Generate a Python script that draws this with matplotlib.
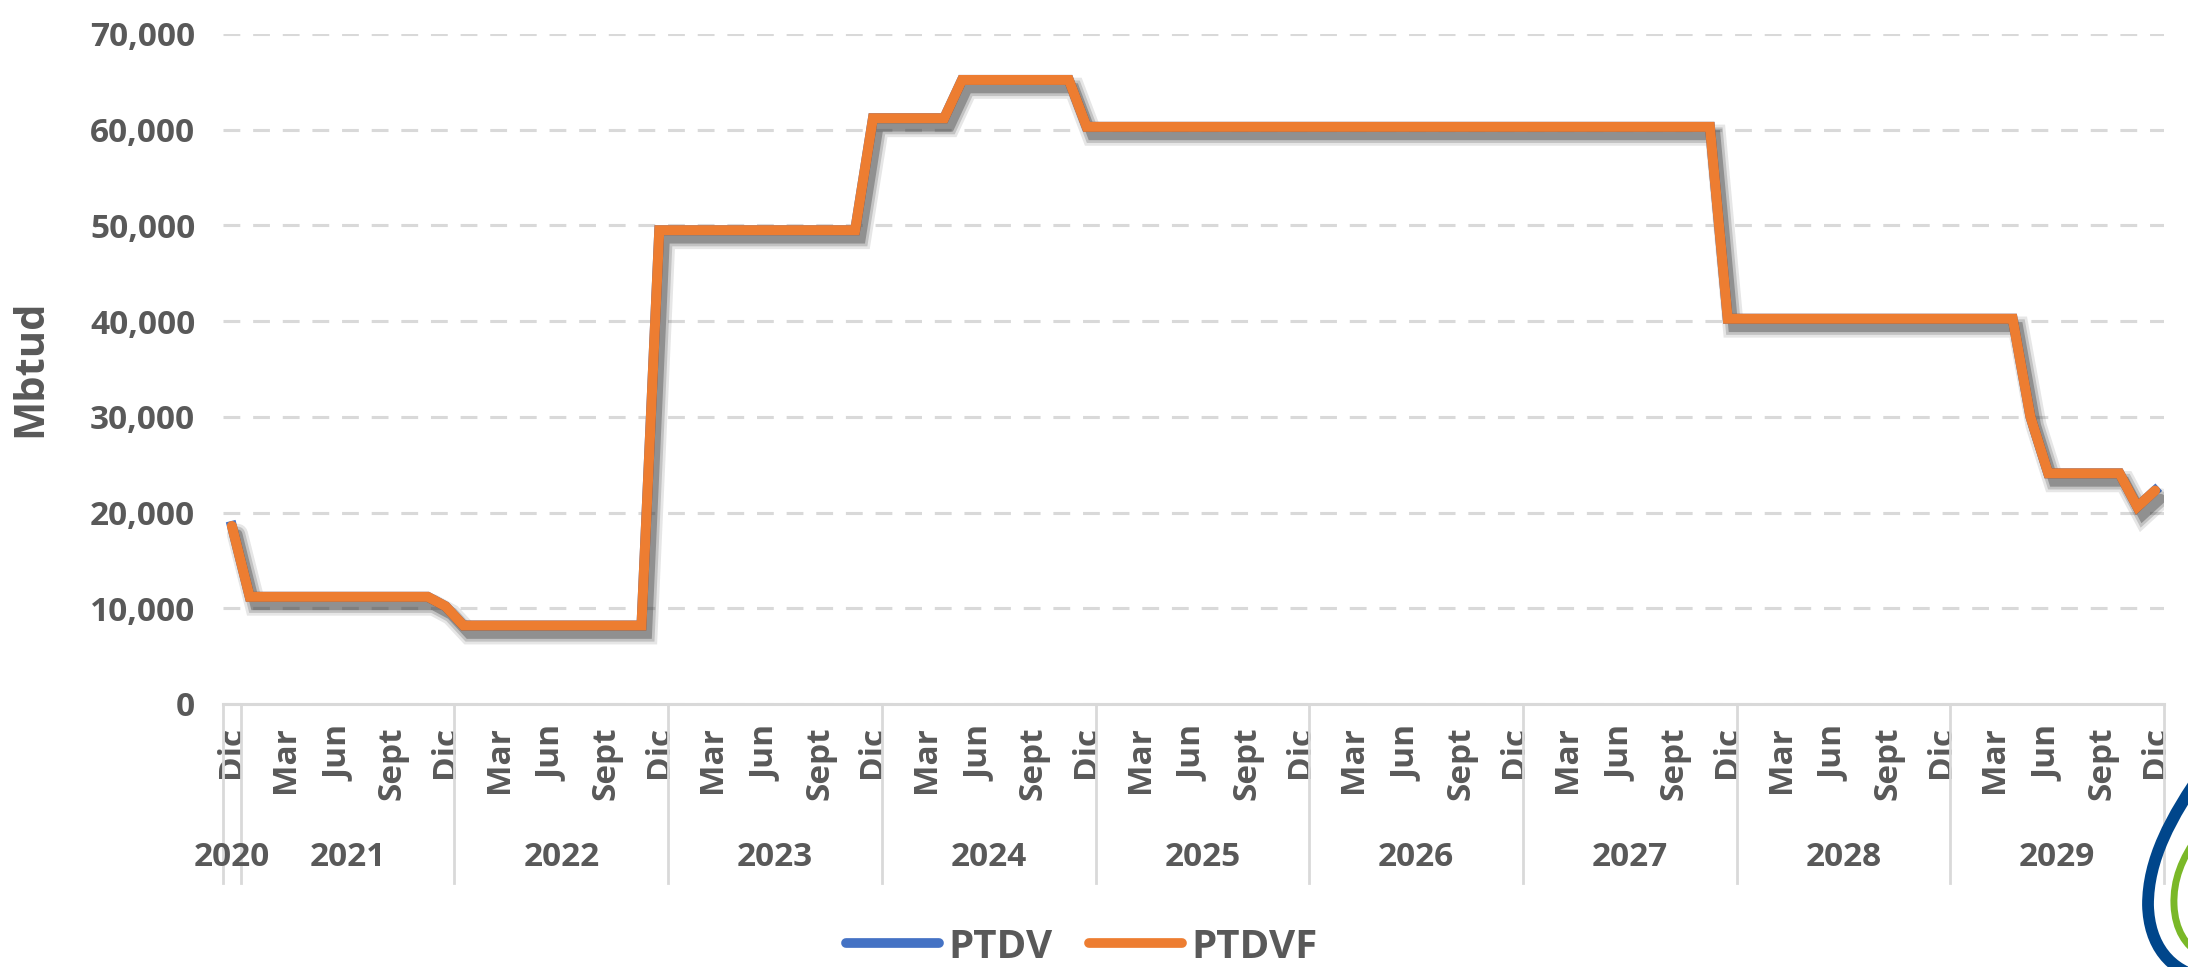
import numpy as np
import matplotlib.pyplot as plt
import matplotlib.patheffects as pe
from matplotlib.lines import Line2D
from matplotlib.path import Path
from matplotlib.patches import PathPatch

plt.rcParams['font.family'] = ['Open Sans', 'DejaVu Sans']

# Monthly categories, Dic 2020 .. Dic 2029
years = ['2020', '2021', '2022', '2023', '2024', '2025', '2026', '2027', '2028', '2029']
month_names = ['Ene', 'Feb', 'Mar', 'Abr', 'May', 'Jun', 'Jul', 'Ago', 'Sept', 'Oct', 'Nov', 'Dic']
months = ['Dic'] + month_names * 9

# PTDVF values (Mbtud), one row per year (2020 has only Dic)
ptdvf = [18600,
         11200, 11200, 11200, 11200, 11200, 11200, 11200, 11200, 11200, 11200, 11200, 10200,
         8200, 8200, 8200, 8200, 8200, 8200, 8200, 8200, 8200, 8200, 8200, 49500,
         49500, 49500, 49500, 49500, 49500, 49500, 49500, 49500, 49500, 49500, 49500, 61200,
         61200, 61200, 61200, 61200, 65200, 65200, 65200, 65200, 65200, 65200, 65200, 60300,
         60300, 60300, 60300, 60300, 60300, 60300, 60300, 60300, 60300, 60300, 60300, 60300,
         60300, 60300, 60300, 60300, 60300, 60300, 60300, 60300, 60300, 60300, 60300, 60300,
         60300, 60300, 60300, 60300, 60300, 60300, 60300, 60300, 60300, 60300, 60300, 40250,
         40250, 40250, 40250, 40250, 40250, 40250, 40250, 40250, 40250, 40250, 40250, 40250,
         40250, 40250, 40250, 40250, 30000, 24100, 24100, 24100, 24100, 24100, 20600, 22300]
# PTDV is identical and hidden under PTDVF
ptdv = list(ptdvf)

text_color = '#595959'
grid_color = '#D9D9D9'
blue = '#4472C4'
orange = '#ED7D31'

W, H = 2188, 967
fig = plt.figure(figsize=(W / 100, H / 100), dpi=100)
ax = fig.add_axes([223 / W, 1 - 704 / H, (2164 - 223) / W, (704 - 34) / H])

x = np.arange(len(months))
lw = 7.2
shadow = [pe.SimpleLineShadow(offset=(4, -6), shadow_color='#333333', alpha=0.12, linewidth=lw + 8),
          pe.SimpleLineShadow(offset=(4, -6), shadow_color='#333333', alpha=0.2, linewidth=lw + 4),
          pe.SimpleLineShadow(offset=(4, -6), shadow_color='#333333', alpha=0.35, linewidth=lw),
          pe.Normal()]
ax.plot(x, ptdv, color=blue, lw=lw, solid_joinstyle='miter', zorder=3)
ax.plot(x, ptdvf, color=orange, lw=lw, solid_capstyle='round', solid_joinstyle='miter',
        path_effects=shadow, zorder=4)

ax.set_xlim(-0.5, len(months) - 0.5)
ax.set_ylim(0, 70000)
ax.set_yticks(np.arange(0, 70001, 10000))
ax.set_yticklabels([f'{v:,}' for v in range(0, 70001, 10000)])
ax.yaxis.grid(True, color=grid_color, lw=2.2, dashes=(5.5, 4.2))
ax.set_axisbelow(True)
for s in ['top', 'right', 'left']:
    ax.spines[s].set_visible(False)
ax.spines['bottom'].set_color(grid_color)
ax.spines['bottom'].set_linewidth(2.2)
ax.spines['bottom'].set_zorder(1)

ticks = x[::3]
ax.set_xticks(ticks)
ax.set_xticklabels([months[i] for i in ticks], rotation=90, va='top', ha='center')
ax.tick_params(axis='x', length=0, pad=16, labelsize=24, labelcolor=text_color)
ax.tick_params(axis='y', length=0, pad=20, labelsize=24, labelcolor=text_color)
for lab in ax.get_xticklabels() + ax.get_yticklabels():
    lab.set_fontweight('bold')

fig.text(31 / W, 1 - 368 / H, 'Mbtud', rotation=90, ha='center', va='center',
         fontsize=30, fontweight='bold', color=text_color)

# year groups
trans = ax.get_xaxis_transform()
bounds = [-0.5, 0.5] + [0.5 + 12 * k for k in range(1, 10)]
sep_bottom = -(883 - 704) / (704 - 34)
for b in bounds:
    ax.plot([b, b], [0, sep_bottom], color=grid_color, lw=2, transform=trans, clip_on=False)
for k, yr in enumerate(years):
    ax.text((bounds[k] + bounds[k + 1]) / 2, -(857 - 704) / (704 - 34), yr, transform=trans,
            ha='center', va='center', fontsize=24, fontweight='bold', color=text_color)

handles = [Line2D([], [], color=blue, lw=7, solid_capstyle='round'),
           Line2D([], [], color=orange, lw=7, solid_capstyle='round')]
fig.legend(handles, ['PTDV', 'PTDVF'], loc='center', bbox_to_anchor=(1082 / W, 1 - 947 / H),
           ncol=2, frameon=False, handlelength=2.3, handletextpad=0.25, columnspacing=0.9,
           prop={'size': 29, 'weight': 'bold'}, labelcolor=text_color)

# partial logo in the lower right corner
def fp(pts):
    return [(px / W, 1 - py / H) for px, py in pts]

codes = [Path.MOVETO, Path.CURVE4, Path.CURVE4, Path.CURVE4, Path.CURVE4, Path.CURVE4, Path.CURVE4]
blue_path = Path(fp([(2205, 768), (2170, 818), (2148, 860), (2148, 905),
                     (2149, 945), (2170, 972), (2205, 978)]), codes)
green_path = Path(fp([(2198, 836), (2182, 858), (2173, 880), (2174, 905),
                      (2175, 930), (2186, 946), (2200, 954)]), codes)
fig.patches.append(PathPatch(blue_path, transform=fig.transFigure, fill=False,
                             edgecolor='#00468B', lw=8.5, capstyle='butt'))
fig.patches.append(PathPatch(green_path, transform=fig.transFigure, fill=False,
                             edgecolor='#7AB828', lw=5, capstyle='butt'))

fig.savefig('out.png', dpi=100, facecolor='white')
